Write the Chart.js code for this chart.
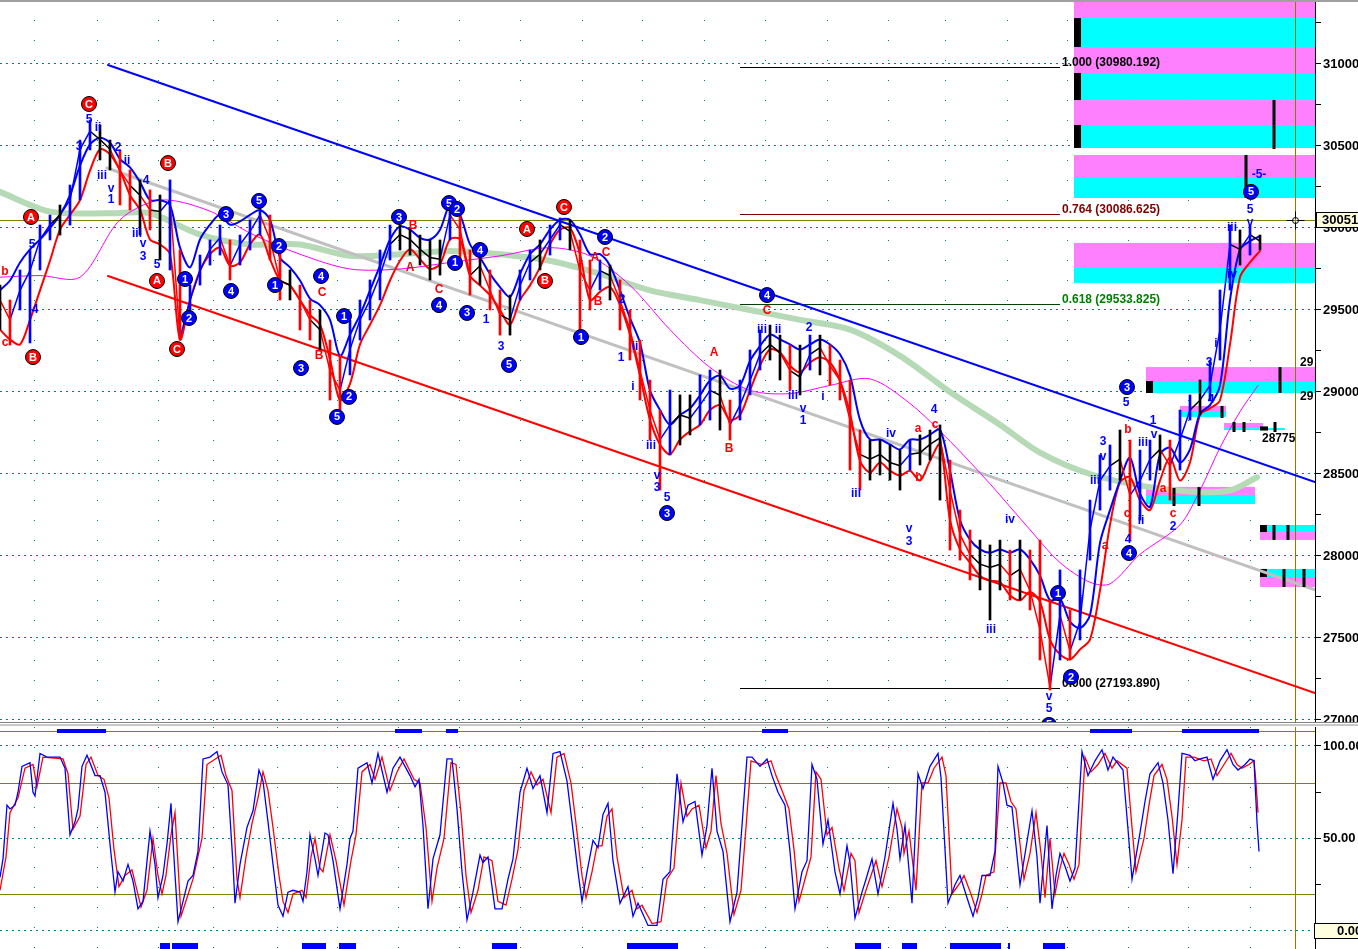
<!DOCTYPE html>
<html>
<head>
<meta charset="utf-8">
<script src="https://cdn.jsdelivr.net/npm/chart.js@4.4.0/dist/chart.umd.min.js"></script>
<style>
html, body { margin: 0; padding: 0; background: #fff; overflow: hidden; }
#wrap { position: relative; width: 1358px; height: 949px; }
#main { position: absolute; left: 0; top: 0; }
#stoch { position: absolute; left: 0; top: 727px; }
#topline { position: absolute; left: 0; top: 0; width: 1358px; height: 2px; background: #a0a0a0; }
#div1 { position: absolute; left: 0; top: 722px; width: 1358px; height: 1px; background: #808080; }
#div2 { position: absolute; left: 0; top: 724px; width: 1358px; height: 2px; background: #c8c8c8; }
</style>
</head>
<body>
<div id="wrap">
  <canvas id="main" width="1358" height="722"></canvas>
  <canvas id="stoch" width="1358" height="222"></canvas>
  <div id="topline"></div>
  <div id="div1"></div>
  <div id="div2"></div>
</div>
<script>
// price bars, one value every 10 bars
var barStep = 10;
var closes = [29560,29440,29620,29740,29930,30020,30080,30170,30480,30590,
  30540,30480,30350,30260,30200,30110,30100,30170,29330,29560,
  29740,29870,29940,29770,29900,29980,30080,29930,29680,29650,
  29560,29440,29380,29130,29010,29260,29440,29560,29710,29900,
  29960,29930,29870,29820,29810,30080,29990,29710,29770,29620,
  29470,29440,29650,29790,29840,29930,30020,29980,29740,29620,
  29740,29710,29560,29380,29130,28890,28710,28800,28860,28840,
  28920,29010,28980,28800,28920,29070,29230,29290,29240,29130,
  29090,29230,29270,29160,29070,28830,28620,28590,28620,28570,
  28550,28620,28630,28680,28720,28400,28130,28010,27950,27930,
  27950,27880,27920,27790,27550,27200,27640,27420,27600,28160,
  28460,28550,28590,28370,28460,28590,28650,28550,28710,28890,
  28950,29040,29380,29900,29870,29960,29920];

var highs = [29652,29561,29744,29866,30018,30079,30140,30262,30536,30658,
  30628,30536,30476,30354,30293,30232,30201,30293,29866,29652,
  29835,29927,30018,29927,29957,30049,30140,30079,29866,29744,
  29652,29561,29500,29317,29226,29439,29561,29683,29866,30018,
  30018,30000,29957,29927,29927,30171,30110,29866,29866,29744,
  29622,29591,29744,29866,29927,30018,30061,30049,29927,29805,
  29805,29774,29683,29500,29317,29073,28890,29012,28982,28982,
  29104,29134,29134,28951,29073,29256,29378,29408,29347,29286,
  29286,29347,29347,29286,29195,29073,28768,28707,28707,28677,
  28646,28707,28738,28768,28799,28585,28280,28158,28097,28067,
  28097,28036,28097,28036,28097,27732,27915,27671,27915,28341,
  28616,28677,28768,28707,28646,28707,28738,28707,28890,28982,
  29073,29195,29622,30018,29988,30018,29957];

var lows = [29378,29286,29500,29299,29744,29927,29957,30018,30171,30476,
  30415,30354,30140,30110,29957,29988,29805,29744,29317,29439,
  29652,29774,29835,29683,29774,29866,29957,29805,29561,29561,
  29378,29317,29256,28951,28890,29104,29317,29439,29561,29805,
  29866,29835,29774,29683,29713,29927,29805,29591,29652,29500,
  29347,29347,29561,29683,29744,29835,29927,29866,29378,29500,
  29622,29561,29378,29195,28951,28707,28402,28616,28677,28738,
  28799,28829,28768,28707,28829,28982,29134,29195,29073,29012,
  28982,29134,29104,29043,28951,28524,28402,28463,28494,28463,
  28402,28524,28555,28585,28341,28036,27975,27854,27793,27610,
  27793,27732,27732,27671,27366,27183,27366,27366,27488,27975,
  28280,28402,28463,28097,28219,28463,28524,28341,28524,28829,
  28860,28951,29195,29622,29774,29835,29866];

var upperBand = [29620,29680,29790,29870,29930,30000,30080,30200,30380,30510,
  30550,30520,30420,30370,30280,30170,30170,30140,29880,29760,
  29930,30020,30080,30020,30040,30080,30110,30050,29820,29760,
  29680,29570,29530,29440,29220,29350,29470,29620,29770,29930,
  30010,29990,29940,29930,29990,30140,30080,29900,29820,29720,
  29640,29580,29720,29840,29900,29990,30050,30050,29960,29840,
  29840,29770,29620,29450,29300,29010,28890,28800,28860,28900,
  28980,29070,29100,29020,29040,29190,29280,29350,29320,29290,
  29260,29290,29320,29290,29230,29100,28830,28710,28710,28680,
  28650,28710,28710,28740,28770,28520,28220,28100,28040,28020,
  28040,28020,28040,27980,27880,27730,27740,27600,27560,27640,
  28080,28280,28460,28600,28380,28300,28620,28660,28570,28650,
  28870,28920,29040,29560,29870,29920,29950];

var lowerBand = [29380,29320,29290,29440,29620,29800,29990,30080,30170,30350,
  30480,30450,30350,30200,30110,29930,29900,29840,29320,29560,
  29740,29840,29880,29770,29790,29900,29960,29810,29680,29650,
  29560,29470,29410,29200,28950,29050,29290,29410,29530,29680,
  29800,29870,29810,29750,29780,29930,29930,29710,29650,29590,
  29500,29410,29560,29650,29760,29900,29990,30000,29840,29560,
  29610,29640,29530,29350,29100,28830,28680,28620,28710,28760,
  28800,28890,28920,28830,28860,29010,29160,29260,29240,29160,
  29120,29180,29210,29180,29070,28870,28580,28510,28570,28520,
  28490,28520,28460,28580,28680,28220,28040,27960,27880,27850,
  27840,27760,27730,27780,27720,27490,27400,27370,27430,27490,
  27790,28190,28450,28480,28340,28280,28460,28600,28460,28570,
  28860,28900,28950,29290,29700,29790,29860];

var pinkAvg = [[0,29700],[40,29710],[80,29700],[120,30050],[160,30170],[207,30110],[253,29960],
  [300,29840],[350,29750],[400,29750],[450,29790],[500,29830],[550,29880],[590,29830],
  [630,29650],[670,29380],[710,29150],[750,29010],[790,28990],[830,29040],[870,29080],
  [910,28930],[950,28700],[990,28440],[1030,28160],[1060,27960],[1090,27840],[1110,27830],
  [1140,28010],[1180,28190],[1200,28400],[1220,28660],[1240,28880],[1258,29040]];

var greenAvg = [[0,30220],[50,30100],[110,30090],[150,30090],[200,29960],[250,29900],[300,29900],
  [350,29830],[400,29840],[450,29860],[500,29840],[550,29800],[600,29720],[650,29620],
  [700,29560],[750,29500],[800,29440],[850,29380],[900,29220],[950,29000],[1000,28800],
  [1040,28630],[1090,28500],[1150,28420],[1200,28390],[1230,28400],[1257,28480]];

var channelTop = [[108,30994],[1315,28451]];
var channelBottom = [[108,29707],[1315,27165]];
var greyTrend = [[107,30366],[1315,27793]];

var fibRatios = ['1.000','0.764','0.618','0.000'];
var fibLevels = [30980.192, 30086.625, 29533.825, 27193.890];
var fibFrom = 740, fibTo = 1060;
var lastPrice = 30051;
var cursorBar = 1295;

var pinkZones = [[1074,1315,31390,31280],[1074,1315,31104,30945],[1074,1315,30780,30628],
  [1074,1315,30445,30311],[1074,1315,29909,29762],[1146,1315,29152,29067],[1180,1226,28915,28878],
  [1224,1263,28811,28780],[1146,1255,28421,28372],[1260,1315,28146,28098],[1260,1315,27872,27811]];
var cyanZones = [[1074,1315,31280,31104],[1074,1315,30945,30780],[1074,1315,30628,30488],
  [1074,1315,30311,30183],[1074,1315,29762,29665],[1146,1315,29067,28994],[1180,1226,28878,28848],
  [1224,1285,28780,28768],[1146,1255,28372,28317],[1260,1315,28189,28146],[1260,1315,27921,27872]];
var zoneBlocks = [[1074,1081,31280,31104],[1074,1081,30945,30780],[1074,1081,30628,30488],
  [1146,1153,29067,28994],[1260,1268,28790,28765],[1260,1267,28189,28146],[1260,1267,27921,27872]];
var zoneTicks = [[1274,30780,30482],[1246,30445,30183],[1280,29152,28994],[1222,28915,28842],
  [1234,28817,28756],[1244,28817,28756],[1275,28817,28756],[1174,28415,28305],[1199,28421,28305],
  [1274,28189,28098],[1288,28189,28098],[1284,27921,27811],[1304,27921,27811]];
var zoneTexts = [[1300,29176,'29'],[1300,28970,'29'],[1262,28713,'28775']];

var redCircles = [[89,30756,'C'],[168,30396,'B'],[31,30067,'A'],[157,29677,'A'],[33,29213,'B'],
  [177,29262,'C'],[527,29994,'A'],[564,30128,'C'],[545,29677,'B']];
var blueCircles = [[226,30085,'3'],[259,30165,'5'],[279,29890,'2'],[185,29689,'1'],[189,29451,'2'],
  [231,29616,'4'],[275,29652,'1'],[321,29707,'4'],[344,29463,'1'],[301,29146,'3'],[349,28970,'2'],
  [337,28848,'5'],[399,30067,'3'],[449,30152,'5'],[457,30116,'2'],[455,29787,'1'],[480,29866,'4'],
  [439,29530,'4'],[467,29482,'3'],[509,29165,'5'],[581,29335,'1'],[605,29945,'2'],[667,28262,'3'],
  [767,29591,'4'],[1058,27774,'1'],[1071,27262,'2'],[1129,28018,'4'],[1127,29030,'3'],
  [1251,30220,'5'],[1049,26970,'5']];
var blueWaves = [[89,30659,'5'],[79,30494,'3'],[98,30610,'ii'],[118,30488,'2'],[127,30409,'ii'],
  [102,30317,'iii'],[111,30238,'v'],[111,30171,'1'],[146,30287,'4'],[137,29963,'iii'],[143,29902,'v'],
  [143,29823,'3'],[157,29774,'5'],[32,29896,'5'],[35,29500,'4'],[501,29274,'3'],[486,29439,'1'],
  [622,29561,'2'],[621,29207,'1'],[633,29030,'i'],[635,29274,'ii'],[651,28671,'iii'],[657,28488,'v'],
  [657,28415,'3'],[667,28354,'5'],[762,29378,'iii'],[778,29378,'ii'],[809,29390,'2'],[793,28976,'iii'],
  [803,28896,'v'],[803,28823,'1'],[823,28970,'i'],[891,28744,'iv'],[856,28378,'iii'],[909,28165,'v'],
  [909,28085,'3'],[934,28890,'4'],[1010,28220,'iv'],[991,27549,'iii'],[1049,27140,'v'],[1049,27067,'5'],
  [1081,27726,'i'],[1103,28695,'3'],[1103,28604,'v'],[1095,28457,'iii'],[1126,28933,'5'],[1153,28823,'1'],
  [1154,28738,'v'],[1143,28689,'iii'],[1141,28213,'ii'],[1128,28098,'4'],[1173,28177,'2'],
  [1211,28951,'4'],[1209,29177,'3'],[1216,29293,'i'],[1232,30000,'iii'],[1250,30110,'5'],
  [1250,30030,'v'],[1259,30323,'-5-'],[1232,29713,'iv']];
var redWaves = [[5,29732,'b'],[5,29299,'c'],[413,30012,'B'],[410,29756,'A'],[439,29622,'C'],
  [322,29604,'C'],[319,29220,'B'],[595,29817,'A'],[606,29848,'C'],[598,29549,'B'],[714,29238,'A'],
  [729,28652,'B'],[767,29494,'C'],[918,28774,'a'],[935,28799,'c'],[919,28476,'b'],[1128,28768,'b'],
  [1127,28256,'c'],[1163,28409,'a'],[1173,28256,'c'],[1105,28061,'a']];

var gridBars = [34,97,158,214,277,337,398,459,520,582,642,704,765,827,888,945,1007,1067,1128,1188,1250];

// stochastic %K and %D
var stochK = [[0,29],[3,39],[7,68],[10,66],[15,68],[18,75],[22,89],[30,91],[33,75],[35,73],[40,96],[47,94],
  [60,94],[65,88],[70,52],[75,59],[78,66],[82,89],[87,95],[95,84],[100,84],[105,75],[110,47],[115,21],
  [118,32],[123,27],[128,36],[133,27],[138,12],[143,16],[150,54],[155,36],[158,18],[163,30],[167,47],
  [171,69],[173,48],[178,5],[183,16],[188,27],[193,30],[198,43],[203,93],[210,94],[217,97],[222,86],
  [228,79],[233,36],[235,15],[240,36],[247,56],[253,65],[259,87],[263,81],[268,59],[273,36],[278,14],
  [283,8],[288,21],[293,22],[300,21],[303,16],[307,32],[310,52],[315,39],[318,30],[325,53],[328,52],
  [333,38],[340,12],[347,36],[350,50],[353,54],[358,88],[367,91],[372,80],[378,96],[387,75],[393,88],
  [400,94],[410,84],[415,78],[419,82],[423,57],[428,12],[433,39],[440,52],[447,93],[452,93],[457,66],
  [462,32],[467,6],[473,21],[480,41],[483,37],[488,40],[495,12],[502,12],[508,28],[513,39],[520,75],
  [527,88],[533,77],[540,84],[547,64],[553,96],[560,97],[567,81],[572,59],[578,32],[582,16],[587,32],
  [593,49],[598,45],[603,63],[608,69],[613,38],[620,15],[628,24],[633,8],[638,15],[648,3],[657,3],
  [663,28],[670,32],[677,85],[683,59],[688,68],[695,70],[702,41],[707,57],[712,88],[717,54],[723,43],
  [730,5],[737,21],[742,57],[747,94],[752,94],[760,89],[767,93],[772,84],[778,75],[785,68],[790,43],
  [795,12],[802,32],[807,38],[812,90],[817,82],[823,47],[828,60],[835,32],[840,20],[847,46],[850,37],
  [855,7],[862,21],[866,28],[872,39],[878,20],[885,40],[893,69],[897,55],[900,39],[905,57],[912,15],
  [918,85],[923,77],[930,89],[938,96],[941,83],[948,15],[955,25],[960,30],[967,18],[973,8],[978,18],
  [982,30],[990,30],[995,43],[998,89],[1003,80],[1007,68],[1012,67],[1020,25],[1026,45],[1032,65],
  [1037,40],[1040,15],[1047,57],[1052,12],[1056,30],[1060,42],[1065,35],[1070,27],[1075,34],[1082,97],
  [1088,84],[1095,92],[1102,98],[1108,87],[1113,94],[1123,87],[1128,55],[1132,28],[1140,53],[1145,70],
  [1150,85],[1158,91],[1163,80],[1168,60],[1173,31],[1178,65],[1182,96],[1190,95],[1195,92],[1200,93],
  [1207,94],[1213,82],[1220,92],[1227,98],[1233,90],[1238,87],[1245,90],[1250,93],[1254,92],[1257,59],
  [1259,43]];
var stochD = [[0,22],[6,40],[10,64],[18,72],[25,88],[33,90],[37,78],[43,94],[63,93],[68,85],[73,55],
  [80,62],[86,90],[91,94],[98,84],[104,82],[109,72],[114,44],[119,24],[125,30],[132,33],[137,22],
  [141,13],[147,22],[153,50],[158,30],[162,20],[166,30],[171,52],[175,64],[181,8],[187,18],[193,28],
  [202,50],[207,90],[221,95],[226,84],[232,76],[237,28],[240,18],[246,40],[252,58],[258,72],[263,86],
  [268,76],[273,56],[279,30],[283,16],[288,10],[293,20],[302,22],[306,18],[311,40],[315,50],[320,34],
  [323,32],[330,52],[336,38],[344,14],[351,38],[356,52],[362,86],[370,90],[375,82],[382,94],[390,76],
  [397,86],[404,93],[414,82],[420,80],[426,56],[432,16],[437,34],[444,50],[451,91],[456,90],[461,64],
  [466,30],[471,10],[478,22],[484,40],[492,38],[498,16],[506,14],[512,28],[518,44],[524,76],[531,86],
  [537,79],[543,82],[551,64],[557,94],[564,96],[571,80],[576,58],[582,30],[586,18],[592,32],[597,46],
  [602,46],[607,62],[612,66],[617,40],[624,18],[632,22],[637,12],[642,14],[652,4],[661,5],[667,28],
  [674,34],[681,80],[687,62],[692,66],[699,68],[706,45],[711,54],[716,84],[721,58],[727,42],[734,9],
  [741,22],[746,56],[751,92],[762,90],[771,92],[776,84],[782,76],[789,66],[794,44],[799,16],[806,30],
  [811,40],[816,86],[821,82],[827,52],[832,56],[839,34],[844,22],[851,42],[855,38],[859,10],[866,22],
  [876,38],[882,24],[889,40],[897,66],[902,56],[904,42],[909,54],[916,22],[922,80],[928,80],[934,88],
  [942,94],[946,84],[952,20],[960,26],[964,30],[971,20],[977,10],[982,20],[986,30],[994,32],[1000,80],
  [1006,80],[1011,70],[1016,66],[1024,28],[1030,42],[1036,64],[1041,42],[1045,18],[1050,50],[1055,20],
  [1060,34],[1064,42],[1069,36],[1074,28],[1079,36],[1085,94],[1091,86],[1098,90],[1105,96],[1112,88],
  [1117,92],[1127,88],[1132,56],[1136,32],[1144,50],[1149,68],[1154,84],[1162,90],[1167,82],[1172,62],
  [1177,36],[1182,60],[1186,94],[1194,94],[1204,92],[1211,93],[1217,84],[1224,90],[1231,96],[1237,90],
  [1242,88],[1249,90],[1254,92],[1256,80],[1258,64]];
var stochLevels = [80, 20];
var signalTop = [[57,106],[395,422],[446,458],[762,788],[1090,1132],[1182,1259]];
var signalBottom = [[160,170],[172,198],[302,326],[339,356],[492,517],[627,678],[855,881],[902,917],
  [950,1001],[1008,1010],[1043,1065]];

var FONT = '"Liberation Sans", Arial, sans-serif';
var TEAL = '#008080';
var OLIVE = '#808000';

function pts(list) {
  return list.map(function (p) { return {x: p[0], y: p[1]}; });
}
function stepPts(vals) {
  return vals.map(function (v, i) { return {x: i * barStep, y: v}; });
}
function rangePts() {
  return highs.map(function (h, i) { return {x: i * barStep, y: [lows[i], h]}; });
}
function trendColor(d) {
  return d > 60 ? '#0000ff' : (d < -60 ? '#ff0000' : '#000');
}

function xGrid(scale) {
  scale.ticks = gridBars.map(function (b) { return {value: b}; });
}

var mainPlugin = {
  id: 'mainPlugin',
  beforeDatasetsDraw: function (chart) {
    var c = chart.ctx, xs = chart.scales.x, ys = chart.scales.y, a = chart.chartArea;
    c.save();
    c.beginPath(); c.rect(a.left, a.top, a.width, a.height); c.clip();
    function box(z, col) {
      var x0 = xs.getPixelForValue(z[0]), x1 = xs.getPixelForValue(z[1]);
      var y0 = ys.getPixelForValue(z[2]), y1 = ys.getPixelForValue(z[3]);
      c.fillStyle = col;
      c.fillRect(x0, y0, x1 - x0, y1 - y0);
    }
    pinkZones.forEach(function (z) { box(z, '#ff80ff'); });
    cyanZones.forEach(function (z) { box(z, '#00ffff'); });
    zoneBlocks.forEach(function (z) { box(z, '#000'); });
    // fib lines
    var fibCol = ['#000', '#800000', '#004000', '#000'];
    var fibTxt = ['#000', '#800000', '#008000', '#000'];
    fibLevels.forEach(function (lv, i) {
      var y = Math.round(ys.getPixelForValue(lv)) + 0.5;
      c.strokeStyle = fibCol[i]; c.lineWidth = 1;
      c.beginPath(); c.moveTo(xs.getPixelForValue(fibFrom), y); c.lineTo(xs.getPixelForValue(fibTo), y); c.stroke();
      c.fillStyle = fibTxt[i];
      c.font = 'bold 12px ' + FONT;
      c.textAlign = 'left'; c.textBaseline = 'bottom';
      c.fillText(fibRatios[i] + ' (' + lv.toFixed(3) + ')', xs.getPixelForValue(fibTo) + 2, y + 1);
    });
    // last price line and cursor line
    var yl = Math.round(ys.getPixelForValue(lastPrice)) + 0.5;
    c.strokeStyle = OLIVE; c.lineWidth = 1;
    c.beginPath(); c.moveTo(a.left, yl); c.lineTo(a.right, yl); c.stroke();
    var xc = Math.round(xs.getPixelForValue(cursorBar)) + 0.5;
    c.beginPath(); c.moveTo(xc, a.top); c.lineTo(xc, a.bottom); c.stroke();
    c.restore();
  },
  afterDatasetsDraw: function (chart) {
    var c = chart.ctx, xs = chart.scales.x, ys = chart.scales.y, a = chart.chartArea;
    c.save();
    c.beginPath(); c.rect(a.left, a.top, a.width, a.height); c.clip();
    c.strokeStyle = '#000'; c.lineWidth = 3;
    zoneTicks.forEach(function (t) {
      var x = xs.getPixelForValue(t[0]);
      c.beginPath(); c.moveTo(x, ys.getPixelForValue(t[1])); c.lineTo(x, ys.getPixelForValue(t[2])); c.stroke();
    });
    c.font = 'bold 12px ' + FONT;
    c.fillStyle = '#000'; c.textAlign = 'left'; c.textBaseline = 'middle';
    zoneTexts.forEach(function (t) {
      c.fillText(t[2], xs.getPixelForValue(t[0]), ys.getPixelForValue(t[1]));
    });
    c.textAlign = 'center';
    blueWaves.forEach(function (t) {
      c.fillStyle = '#0000ff';
      c.fillText(t[2], xs.getPixelForValue(t[0]), ys.getPixelForValue(t[1]));
    });
    redWaves.forEach(function (t) {
      c.fillStyle = '#ff0000';
      c.fillText(t[2], xs.getPixelForValue(t[0]), ys.getPixelForValue(t[1]));
    });
    function circ(t, fill) {
      var x = xs.getPixelForValue(t[0]), y = ys.getPixelForValue(t[1]);
      c.beginPath(); c.arc(x, y, 7.5, 0, Math.PI * 2);
      c.fillStyle = fill; c.fill();
      c.lineWidth = 1; c.strokeStyle = '#000'; c.stroke();
      c.fillStyle = '#fff'; c.font = 'bold 11px ' + FONT;
      c.textAlign = 'center'; c.textBaseline = 'middle';
      c.fillText(t[2], x, y + 0.5);
    }
    blueCircles.forEach(function (t) { circ(t, '#0000ff'); });
    redCircles.forEach(function (t) { circ(t, '#ff0000'); });
    // cursor cross
    var xc = Math.round(xs.getPixelForValue(cursorBar)) + 0.5;
    var yc = Math.round(ys.getPixelForValue(lastPrice)) + 0.5;
    c.strokeStyle = '#000'; c.lineWidth = 1;
    c.beginPath();
    c.moveTo(xc - 9, yc); c.lineTo(xc - 2, yc); c.moveTo(xc + 2, yc); c.lineTo(xc + 9, yc);
    c.moveTo(xc, yc - 9); c.lineTo(xc, yc - 2); c.moveTo(xc, yc + 2); c.lineTo(xc, yc + 9);
    c.stroke();
    c.beginPath(); c.arc(xc, yc, 3, 0, Math.PI * 2); c.stroke();
    c.restore();
  },
  afterDraw: function (chart) {
    var c = chart.ctx, ys = chart.scales.y, a = chart.chartArea;
    var y = ys.getPixelForValue(lastPrice);
    c.save();
    c.fillStyle = '#ffffe0'; c.strokeStyle = '#000'; c.lineWidth = 1;
    c.fillRect(a.right + 1, Math.round(y) - 8, 50, 16);
    c.strokeRect(a.right + 1.5, Math.round(y) - 7.5, 50, 15);
    c.fillStyle = '#000'; c.font = 'bold 13px ' + FONT;
    c.textAlign = 'left'; c.textBaseline = 'middle';
    c.fillText(lastPrice + '.', a.right + 7, Math.round(y) + 0.5);
    c.restore();
  }
};

var stochPlugin = {
  id: 'stochPlugin',
  beforeDatasetsDraw: function (chart) {
    var c = chart.ctx, xs = chart.scales.x, ys = chart.scales.y, a = chart.chartArea;
    c.save();
    c.strokeStyle = OLIVE; c.lineWidth = 1;
    stochLevels.forEach(function (lv) {
      var y = Math.round(ys.getPixelForValue(lv)) + 0.5;
      c.beginPath(); c.moveTo(a.left, y); c.lineTo(a.right, y); c.stroke();
    });
    c.beginPath(); c.moveTo(a.left, a.top + 4.5); c.lineTo(a.right, a.top + 4.5); c.stroke();
    var xc = Math.round(xs.getPixelForValue(cursorBar)) + 0.5;
    c.beginPath(); c.moveTo(xc, a.top); c.lineTo(xc, a.bottom); c.stroke();
    c.fillStyle = '#0000ff';
    signalTop.forEach(function (s) {
      var x0 = xs.getPixelForValue(s[0]), x1 = xs.getPixelForValue(s[1]);
      c.fillRect(x0, a.top + 2, x1 - x0, 4);
    });
    signalBottom.forEach(function (s) {
      var x0 = xs.getPixelForValue(s[0]), x1 = xs.getPixelForValue(s[1]);
      c.fillRect(x0, a.bottom - 6, x1 - x0, 6);
    });
    c.restore();
  },
  afterDraw: function (chart) {
    var c = chart.ctx, ys = chart.scales.y, a = chart.chartArea;
    var y = Math.round(ys.getPixelForValue(0));
    c.save();
    c.fillStyle = '#ffffe0'; c.strokeStyle = '#000'; c.lineWidth = 1;
    c.fillRect(a.right - 1, y - 8, 50, 16);
    c.strokeRect(a.right - 0.5, y - 7.5, 50, 15);
    c.fillStyle = '#000'; c.font = 'bold 13px ' + FONT;
    c.textAlign = 'left'; c.textBaseline = 'middle';
    c.fillText('0.00', a.right + 22, y + 0.5);
    c.restore();
  }
};

function fixWidth(s) { s.width = 43; s.paddingTop = 0; s.paddingBottom = 0; }
function fixHeight(s) { s.height = 0; s.paddingLeft = 0; s.paddingRight = 0; }

var xAxis = {
  type: 'linear', min: 0, max: 1315, offset: false,
  afterBuildTicks: xGrid,
  afterFit: fixHeight,
  ticks: {display: false},
  grid: {color: TEAL, lineWidth: 1, drawTicks: false, offset: false},
  border: {display: false, dash: [1, 19]}
};

new Chart(document.getElementById('main'), {
  type: 'line',
  data: {
    datasets: [
      {type: 'bar', data: rangePts(), barThickness: 2, grouped: false,
        backgroundColor: function (ctx) {
          var i = ctx.dataIndex;
          return trendColor(i > 0 ? closes[i] - closes[i - 1] : 0);
        }},
      {data: stepPts(closes), borderWidth: 1.5, borderColor: '#000', tension: 0,
        segment: {borderColor: function (ctx) { return trendColor(ctx.p1.parsed.y - ctx.p0.parsed.y); }}},
      {data: stepPts(upperBand), borderColor: '#0000ff', borderWidth: 2},
      {data: stepPts(lowerBand), borderColor: '#ff0000', borderWidth: 2},
      {data: pts(channelTop), borderColor: '#0000ff', borderWidth: 2},
      {data: pts(channelBottom), borderColor: '#ff0000', borderWidth: 2},
      {data: pts(pinkAvg), borderColor: '#ff00ff', borderWidth: 1},
      {data: pts(greyTrend), borderColor: '#c0c0c0', borderWidth: 3},
      {data: pts(greenAvg), borderColor: '#b6d9b6', borderWidth: 6}
    ]
  },
  options: {
    responsive: false, animation: false,
    layout: {padding: 0},
    elements: {point: {radius: 0}, line: {tension: 0.3, borderCapStyle: 'round'}},
    plugins: {legend: {display: false}, tooltip: {enabled: false}},
    scales: {
      x: xAxis,
      y: {
        position: 'right', min: 26987.8, max: 31390.2,
        afterFit: fixWidth,
        ticks: {
          stepSize: 250, includeBounds: false, padding: 2, color: '#000',
          font: {family: FONT, size: 13, weight: 'bold'},
          callback: function (v) { return v % 500 === 0 ? String(v) : ''; }
        },
        grid: {
          color: function (ctx) { return ctx.tick && ctx.tick.value % 500 === 0 ? TEAL : 'rgba(0,0,0,0)'; },
          tickColor: '#000', tickLength: 6, lineWidth: 1
        },
        border: {display: true, color: '#000', width: 1, dash: [2, 4]}
      }
    }
  },
  plugins: [mainPlugin]
});

new Chart(document.getElementById('stoch'), {
  type: 'line',
  data: {
    datasets: [
      {data: pts(stochK), borderColor: '#0000ff', borderWidth: 1.3},
      {data: pts(stochD), borderColor: '#ff0000', borderWidth: 1.3}
    ]
  },
  options: {
    responsive: false, animation: false,
    layout: {padding: 0},
    elements: {point: {radius: 0}, line: {tension: 0}},
    plugins: {legend: {display: false}, tooltip: {enabled: false}},
    scales: {
      x: xAxis,
      y: {
        position: 'right', min: -9.73, max: 110.27,
        afterFit: fixWidth,
        ticks: {
          stepSize: 25, includeBounds: false, padding: 2, color: '#000',
          font: {family: FONT, size: 13, weight: 'bold'},
          callback: function (v) { return (v === 100 || v === 50) ? v.toFixed(2) : ''; }
        },
        grid: {
          color: function (ctx) { return ctx.tick && ctx.tick.value % 50 === 0 ? TEAL : 'rgba(0,0,0,0)'; },
          tickColor: '#000', tickLength: 6, lineWidth: 1
        },
        border: {display: true, color: '#000', width: 1, dash: [2, 4]}
      }
    }
  },
  plugins: [stochPlugin]
});
</script>
</body>
</html>
